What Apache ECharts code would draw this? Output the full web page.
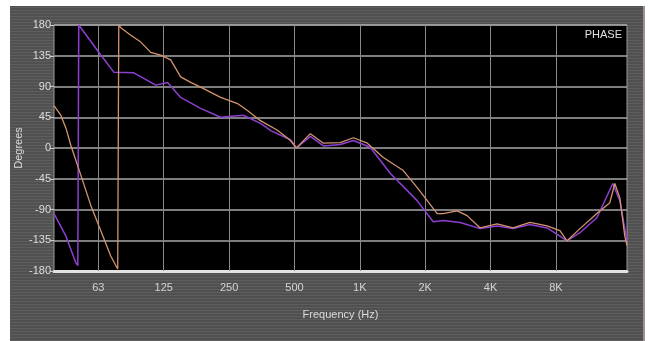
<!DOCTYPE html>
<html>
<head>
<meta charset="utf-8">
<script src="https://cdn.jsdelivr.net/npm/echarts@6/dist/echarts.min.js"></script>
<style>
  html, body { margin: 0; padding: 0; background: #ffffff; }
  #bg { position: absolute; left: 10px; top: 6px; width: 633px; height: 335px;
        background-color: #555555;
        background-image: repeating-linear-gradient(0deg, rgba(255,255,255,0.05) 0px, rgba(255,255,255,0.05) 1px, rgba(0,0,0,0.06) 1px, rgba(0,0,0,0.06) 3px); }
  #edge { position: absolute; left: 643px; top: 6px; width: 2px; height: 335px; background: #a88a94; }
  #chart { position: absolute; left: 0; top: 0; width: 653px; height: 341px; }
</style>
</head>
<body>
<div id="bg"></div>
<div id="edge"></div>
<div id="chart"></div>
<script>
// Tick positions (Hz) and their printed labels
const tickFreqs  = [64, 128, 256, 512, 1024, 2048, 4096, 8192];
const tickLabels = ['63', '125', '250', '500', '1K', '2K', '4K', '8K'];

// Orange trace (frequency in Hz, phase in degrees)
const orangeFreq  = [40, 43, 45.4, 47.8, 53.2, 59.1, 65.7, 73, 78.6, 79.5, 81.2, 90.3, 100.4, 111.6, 124, 137.8, 153.2, 170.3, 189.3, 234, 280, 311, 357, 427.6, 490.8, 523, 606, 696, 833, 956, 1109, 1313, 1623, 1882, 2093, 2325, 2478, 2874, 3194, 3666, 4389, 5199, 6223, 7451, 8546, 9205, 10561, 12643, 14506, 15290, 16126, 17000, 17400];
const orangePhase = [62, 48, 29, 4, -40, -84, -121, -158, -177, 180, 176, 165, 155, 140, 136, 129, 104, 96, 89, 74, 65, 55, 40, 26, 11, 0, 21, 7, 8, 15, 7, -14, -33, -58, -77, -96, -96, -92, -99, -117, -111, -117, -109, -114, -121, -136, -118, -96, -80, -52, -73, -129, -143];

// Purple trace
const purpleFreq  = [40, 45.4, 50.4, 51.5, 52, 65.7, 75.4, 93.2, 103.6, 117.6, 133.5, 153.2, 189.3, 234, 298, 357, 400, 490.8, 523, 606, 696, 833, 956, 1142, 1413, 1880, 2229, 2478, 2966, 3666, 4389, 5199, 6223, 7451, 8546, 9205, 10561, 12643, 14970, 16126, 17400];
const purplePhase = [-96, -129, -168, -172, 180, 136, 111, 110, 102, 92, 96, 74, 58, 45, 48, 36, 25, 12, 0, 17, 3, 5, 11, 1, -37, -77, -108, -106, -109, -118, -114, -118, -112, -117, -129, -136, -124, -102, -52, -77, -136];

const orangeData = orangeFreq.map((f, i) => [f, orangePhase[i]]);
const purpleData = purpleFreq.map((f, i) => [f, purplePhase[i]]);

const FONT = "'Liberation Sans Narrow', 'Liberation Sans', Arial, sans-serif";

function labelFor(v) {
  for (let i = 0; i < tickFreqs.length; i++) {
    if (Math.abs(v - tickFreqs[i]) / tickFreqs[i] < 0.01) return tickLabels[i];
  }
  return '';
}

const chart = echarts.init(document.getElementById('chart'), null, { renderer: 'canvas' });
chart.setOption({
  backgroundColor: 'transparent',
  animation: false,
  grid: {
    left: 54, right: 26, top: 25, bottom: 70,
    show: true, backgroundColor: '#000000',
    borderColor: '#9a9a9a', borderWidth: 1
  },
  xAxis: {
    type: 'log', logBase: 2, min: 40, max: 17400,
    axisLine: { show: true, onZero: false, lineStyle: { color: '#e2e2e2', width: 3 } },
    axisTick: { show: false },
    splitLine: { show: false },
    minorTick: { show: false },
    axisLabel: {
      color: '#d4d4d4', fontSize: 11, fontFamily: FONT, margin: 11,
      showMinLabel: false, showMaxLabel: false,
      formatter: labelFor
    },
    name: 'Frequency (Hz)', nameLocation: 'middle', nameGap: 38,
    nameTextStyle: { color: '#dcdcdc', fontSize: 11, fontFamily: FONT }
  },
  yAxis: {
    type: 'value', min: -180, max: 180, interval: 45,
    axisLine: { show: false },
    axisTick: { show: true, length: 4, lineStyle: { color: '#cccccc' } },
    axisLabel: { color: '#dddddd', fontSize: 11, fontFamily: FONT, margin: 3 },
    splitLine: { show: true, lineStyle: { color: '#a8a8a8', width: 1.5 } },
    name: 'Degrees', nameLocation: 'middle', nameGap: 30, nameRotate: 90,
    nameMoveOverlap: false,
    nameTextStyle: { color: '#dcdcdc', fontSize: 11, fontFamily: FONT }
  },
  graphic: [{
    type: 'text', right: 31, top: 29,
    style: { text: 'PHASE', fill: '#e0e0e0', fontSize: 11, fontFamily: FONT }
  }],
  series: [
    {
      type: 'line', data: [], z: 1, silent: true,
      markLine: {
        silent: true, symbol: 'none', z: 1, animation: false,
        label: { show: false },
        lineStyle: { color: '#8a8a8a', width: 1, type: 'solid' },
        data: tickFreqs.map(f => ({ xAxis: f }))
      }
    },
    {
      name: 'purple', type: 'line', data: purpleData, showSymbol: false, z: 3,
      lineStyle: { color: '#8d3fd2', width: 1.5 }
    },
    {
      name: 'orange', type: 'line', data: orangeData, showSymbol: false, z: 4,
      lineStyle: { color: '#d49470', width: 1.3 }
    }
  ]
});
</script>
</body>
</html>
